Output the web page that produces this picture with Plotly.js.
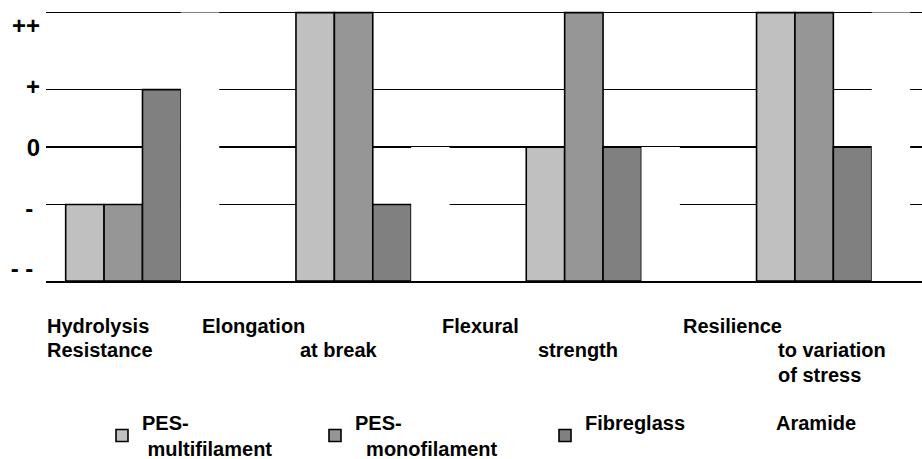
<!DOCTYPE html>
<html>
<head>
<meta charset="utf-8">
<script src="https://cdn.plot.ly/plotly-3.0.1.min.js"></script>
<style>
  html, body { margin: 0; padding: 0; background: #fff; }
  #chart { width: 922px; height: 459px; }
</style>
</head>
<body>
<div id="chart"></div>
<script>
// ---- data ----
const categories = ['Hydrolysis Resistance', 'Elongation at break', 'Flexural strength', 'Resilience to variation of stress'];
const categoryLabelLines = [['Hydrolysis', 'Resistance'], ['Elongation', 'at break'], ['Flexural', 'strength'], ['Resilience', 'to variation', 'of stress']];
const ratingScale = ['- -', '-', '0', '+', '++'];
const ratingLevel = [0, 1.33, 2.33, 3.33, 4.67];
const yTickLabels = ['- -\u00a0', '-\u00a0', '0', '+', '++'];
const seriesNames = ['PES-<br>\u00a0multifilament', 'PES-<br>\u00a0\u00a0monofilament', 'Fibreglass<br>\u00a0', 'Aramide<br>\u00a0'];
const pesMulti = ['-', '++', '0', '++'];
const pesMono = ['-', '++', '++', '++'];
const fibreglass = ['+', '-', '0', '0'];
const aramide = ['++', '0', '0', '++'];

// ---- layout helpers ----
const W = 922, H = 459;
const M = { l: 46, r: 0, t: 8, b: 178, autoexpand: false };
const PW = W - M.l - M.r, PH = H - M.t - M.b;
const px = x => (x - M.l) / PW;
const py = y => (H - M.b - y) / PH;
const FONT = 'Liberation Sans, Arial, Helvetica, sans-serif';

const level = r => ratingLevel[ratingScale.indexOf(r)];
const seriesValues = [pesMulti, pesMono, fibreglass, aramide];
const fills = ['#c0c0c0', '#969696', '#808080', '#ffffff'];
const lineW = [1.6, 1.6, 1.6, 0];
const legendIds = ['legend', 'legend2', 'legend3', 'legend4'];

const traces = seriesValues.map((vals, i) => ({
  type: 'bar',
  name: seriesNames[i],
  x: categories,
  y: vals.map(level),
  legend: legendIds[i],
  marker: { color: fills[i], line: { color: '#000', width: lineW[i] } },
  hoverinfo: 'skip'
}));
// carrier for the rating tick-label axis (no marks)
traces.push({ type: 'scatter', mode: 'markers', x: [categories[0]], y: [null], yaxis: 'y2', showlegend: false, hoverinfo: 'skip' });

// category labels as annotations
const labelX = [[45, 45], [200, 298], [440, 536], [681, 776, 776]];
const rowY = [326, 350, 375];
const annotations = [];
categoryLabelLines.forEach((lines, i) => {
  lines.forEach((t, j) => {
    annotations.push({
      text: t, xref: 'paper', yref: 'paper',
      x: px(labelX[i][j]), y: py(rowY[j]),
      xanchor: 'left', yanchor: 'middle', showarrow: false,
      font: { family: FONT, size: 20, color: '#000', weight: 'bold' }
    });
  });
});

const legendFont = { family: FONT, size: 20, color: '#000', weight: 'bold' };
const legendX = [102, 315, 545, 736];
const mkLegend = i => ({
  xref: 'container', yref: 'container',
  x: legendX[i] / W, y: 1 - 403 / H, xanchor: 'left', yanchor: 'top',
  orientation: 'h', bgcolor: 'rgba(0,0,0,0)', borderwidth: 0,
  font: legendFont, itemclick: false, itemdoubleclick: false
});

const layout = {
  width: W, height: H,
  margin: M,
  paper_bgcolor: '#fff', plot_bgcolor: '#fff',
  barmode: 'group', bargap: 0.333, bargroupgap: 0,
  showlegend: true,
  legend: mkLegend(0), legend2: mkLegend(1), legend3: mkLegend(2), legend4: mkLegend(3),
  xaxis: {
    type: 'category', range: [-0.419, 3.385],
    showticklabels: false, ticks: '', showgrid: false,
    showline: true, linecolor: '#000', linewidth: 1.5, zeroline: false, fixedrange: true
  },
  yaxis: {
    range: [0, 4.75], tickvals: ratingLevel.slice(1), showticklabels: false, ticks: '',
    showgrid: true, gridcolor: '#000', gridwidth: 1.4, zeroline: false, showline: false, fixedrange: true
  },
  yaxis2: {
    overlaying: 'y', side: 'left', anchor: 'x',
    range: [-0.1975, 4.296], tickvals: [0, 1, 2, 3, 4], ticktext: yTickLabels,
    showgrid: false, zeroline: false, showline: false, ticks: '', ticklabelstandoff: 5,
    tickfont: { family: FONT, size: 24, color: '#000', weight: 'bold' }, fixedrange: true
  },
  annotations: annotations
};

Plotly.newPlot('chart', traces, layout, { displayModeBar: false, staticPlot: true });
</script>
</body>
</html>
